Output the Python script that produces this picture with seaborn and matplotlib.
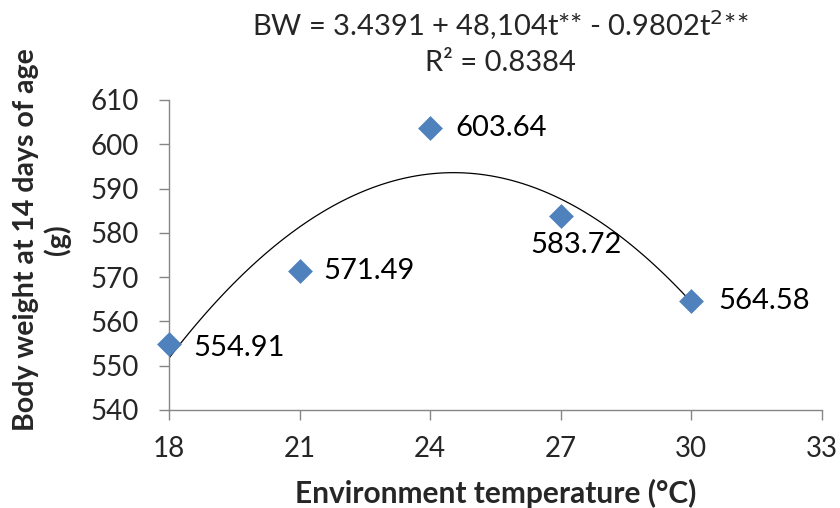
import matplotlib
matplotlib.use("Agg")
import matplotlib.pyplot as plt
import seaborn as sns
import pandas as pd
import numpy as np

temperature = [18, 21, 24, 27, 30]
body_weight = [554.91, 571.49, 603.64, 583.72, 564.58]
point_labels = ["554.91", "571.49", "603.64", "583.72", "564.58"]
x_ticks = [18, 21, 24, 27, 30, 33]
y_ticks = [540, 550, 560, 570, 580, 590, 600, 610]

sns.set_theme(style="white")
plt.rcParams['font.family'] = ['Lato', 'DejaVu Sans']

df = pd.DataFrame({"t": temperature, "bw": body_weight})

fig = plt.figure(figsize=(8.4, 5.08), dpi=100)
ax = fig.add_axes([169/840, 1-410/508, (822-169)/840, (410-100)/508])

sns.regplot(data=df, x="t", y="bw", order=2, ci=None, scatter=False, truncate=True,
            line_kws=dict(color="black", lw=0.9), ax=ax)
sns.scatterplot(data=df, x="t", y="bw", marker="D", s=160, color="#4F81BD",
                edgecolor="#4F81BD", linewidth=0, ax=ax, zorder=3, clip_on=False)

offsets = [(24, -4), (24, 0), (25, 0), (15, -29), (27, 0)]
aligns = ["left", "left", "left", "center", "left"]
for x, y, lab, off, ha in zip(temperature, body_weight, point_labels, offsets, aligns):
    ax.annotate(lab, (x, y), xytext=off, textcoords="offset pixels",
                ha=ha, va="center", fontsize=21, color="black")

ax.set_xlim(18, 33)
ax.set_ylim(540, 610)
ax.set_xticks(x_ticks)
ax.set_yticks(y_ticks)
ax.tick_params(axis="both", labelsize=20, length=7, width=1, color="#868686",
               direction="out", bottom=True, left=True)
ax.tick_params(axis="y", pad=15)
ax.tick_params(axis="x", pad=12)
for s in ["top", "right"]:
    ax.spines[s].set_visible(False)
for s in ["left", "bottom"]:
    ax.spines[s].set_color("#868686")
    ax.spines[s].set_linewidth(1)

ax.set_xlabel("Environment temperature (°C)", fontsize=21.5, fontweight="bold", labelpad=12)
ax.set_ylabel("Body weight at 14 days of age\n(g)", fontsize=20.5, fontweight="bold",
              linespacing=1.2)
ax.yaxis.set_label_coords((71 - 169) / 653, (410 - 240) / 310)

fig.text(500/840, 1-25/508, "BW = 3.4391 + 48,104t** - 0.9802t$^{2}$**", ha="center",
         va="center", fontsize=21)
fig.text(500/840, 1-63/508, "R² = 0.8384", ha="center", va="center", fontsize=21)

fig.savefig("out.png", dpi=100)
